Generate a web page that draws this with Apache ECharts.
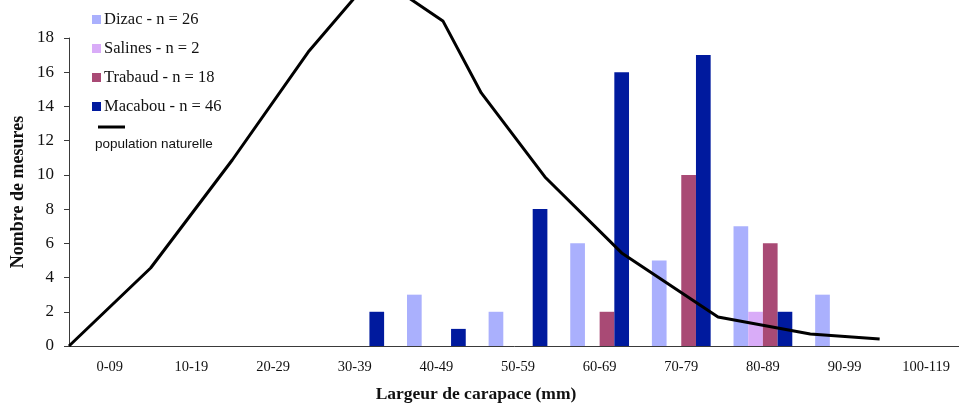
<!DOCTYPE html>
<html>
<head>
<meta charset="utf-8">
<script src="https://cdn.jsdelivr.net/npm/echarts@6/dist/echarts.min.js"></script>
<style>html,body{margin:0;padding:0;background:#fff;}#c{width:959px;height:403px;}</style>
</head>
<body>
<div id="c"></div>
<script>
const categories = ['0-09','10-19','20-29','30-39','40-49','50-59','60-69','70-79','80-89','90-99','100-119'];
const dizac   = [0,0,0,0,3,2,6,5,7,3,0];
const salines = [0,0,0,0,0,0,0,0,2,0,0];
const trabaud = [0,0,0,0,0,0,2,10,6,0,0];
const macabou = [0,0,0,2,1,8,16,17,2,0,0];
// natural population curve: [carapace width (mm), count]
const popX = [0, 10, 20, 29.3, 37.4, 45.8, 50.5, 58.3, 67.7, 79.5, 90.8, 99.3];
const popY = [0, 4.56, 10.87, 17.18, 21.7, 19.0, 14.79, 9.88, 5.44, 1.69, 0.7, 0.41];
const seriesNames = ['Dizac - n = 26','Salines - n = 2','Trabaud - n = 18','Macabou - n = 46'];
const lineName = 'population naturelle';

const chart = echarts.init(document.getElementById('c'));
const serif = '"Liberation Serif","Times New Roman",serif';
const axisColor = '#3a3a3a';
const colors = ['#aab0fd','#d9acf8','#a94a75','#001a9e'];
const barData = [dizac, salines, trabaud, macabou];

chart.setOption({
  animation: false,
  backgroundColor: '#fff',
  grid: {left: 69, top: 38, width: 898, height: 308, containLabel: false, outerBoundsMode: 'none'},
  legend: {
    left: 87, top: 6, orient: 'vertical',
    data: seriesNames,
    itemWidth: 9, itemHeight: 9, itemGap: 12,
    icon: 'rect',
    textStyle: {fontFamily: serif, fontSize: 16.5, color: '#111', padding: [0,0,0,-2]}
  },
  xAxis: [{
    type: 'category', data: categories,
    axisLine: {lineStyle: {color: axisColor, width: 1}},
    axisTick: {alignWithLabel: false, length: 5, lineStyle: {color: axisColor}},
    axisLabel: {fontFamily: serif, fontSize: 14.5, color: '#111', margin: 14, interval: 0},
    name: 'Largeur de carapace (mm)', nameLocation: 'middle', nameGap: 39,
    nameTextStyle: {fontFamily: serif, fontSize: 17.5, fontWeight: 'bold', color: '#111', padding: [0, 84, 0, 0]}
  }, {
    type: 'value', min: 0, max: 110, show: false
  }],
  yAxis: {
    type: 'value', min: 0, max: 18, interval: 2,
    splitLine: {show: false},
    axisLine: {show: true, lineStyle: {color: axisColor, width: 1}},
    axisTick: {show: true, length: 5, lineStyle: {color: axisColor}},
    axisLabel: {fontFamily: serif, fontSize: 17, color: '#111', margin: 15},
    name: 'Nombre de mesures', nameLocation: 'middle', nameGap: 42, nameMoveOverlap: false,
    nameTextStyle: {fontFamily: serif, fontSize: 18, fontWeight: 'bold', color: '#111'}
  },
  series: barData.map((d, i) => ({
    name: seriesNames[i], type: 'bar', data: d,
    barGap: '0%', barCategoryGap: '28%',
    itemStyle: {color: colors[i]}
  })).concat([{
    name: lineName, type: 'line', xAxisIndex: 1,
    data: popX.map((x, i) => [x, popY[i]]),
    showSymbol: false, symbol: 'none', clip: false,
    lineStyle: {color: '#000', width: 3}
  }]),
  graphic: [
    {type: 'line', shape: {x1: 98, y1: 127, x2: 125, y2: 127}, style: {stroke: '#000', lineWidth: 3}},
    {type: 'text', left: 95, top: 137, style: {text: lineName, font: '13.5px "Liberation Sans", Arial, sans-serif', fill: '#111'}}
  ]
});
</script>
</body>
</html>
